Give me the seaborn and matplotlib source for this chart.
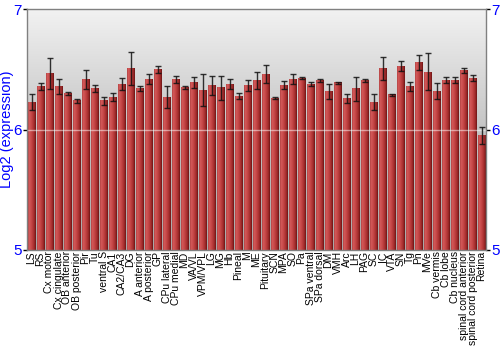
import numpy as np
import pandas as pd
import matplotlib
matplotlib.use("Agg")
import matplotlib.pyplot as plt
from matplotlib.colors import LinearSegmentedColormap
import seaborn as sns

regions = ["LS", "RS", "Cx motor", "Cx cingulate", "OB anterior", "OB posterior", "Pir", "Tu",
           "ventral S", "CA1", "CA2/CA3", "DG", "A anterior", "A posterior", "GP", "CPu lateral",
           "CPu medial", "MD", "VA/VL", "VPM/VPL", "LG", "MG", "Hb", "Pineal", "M", "ME",
           "Pituitary", "SCN", "MPA", "SO", "Pa", "SPa ventral", "SPa dorsal", "DM", "VMH", "Arc",
           "LH", "PAG", "SC", "IC", "VTA", "SN", "Tg", "Pn", "MVe", "Cb vermis", "Cb lobe",
           "Cb nucleus", "spinal cord anterior", "spinal cord posterior", "Retina"]
expression = [6.23, 6.36, 6.47, 6.36, 6.30, 6.24, 6.42, 6.34,
              6.24, 6.27, 6.38, 6.51, 6.34, 6.42, 6.50, 6.27,
              6.42, 6.35, 6.39, 6.33, 6.37, 6.35, 6.38, 6.28, 6.37, 6.41,
              6.46, 6.26, 6.37, 6.42, 6.43, 6.38, 6.41, 6.32, 6.39, 6.26,
              6.34, 6.41, 6.23, 6.51, 6.29, 6.53, 6.36, 6.56, 6.48, 6.32, 6.41,
              6.41, 6.49, 6.43, 5.95]
errors = [0.065, 0.03, 0.13, 0.065, 0.015, 0.017, 0.08, 0.03,
          0.035, 0.035, 0.05, 0.14, 0.02, 0.04, 0.03, 0.09,
          0.03, 0.015, 0.045, 0.13, 0.08, 0.10, 0.04, 0.025, 0.045, 0.07,
          0.075, 0.008, 0.035, 0.04, 0.012, 0.015, 0.01, 0.063, 0.01, 0.036,
          0.10, 0.014, 0.067, 0.094, 0.008, 0.044, 0.035, 0.062, 0.154, 0.065, 0.024,
          0.024, 0.022, 0.025, 0.07]
y_ticks = [5, 6, 7]

df = pd.DataFrame({"region": regions, "expression": expression, "err": errors})

sns.set_theme(style="white")
plt.rcParams["font.family"] = ["Liberation Sans", "DejaVu Sans"]

fig = plt.figure(figsize=(5, 3.5), dpi=100)
ax = fig.add_axes([0.054, 0.286, 0.918, 0.687])

# background gradient
bg = LinearSegmentedColormap.from_list("bg", ["#a8a8a8", "#c4c4c4", "#f2f2f2"])
grad = np.linspace(0, 1, 256).reshape(-1, 1)
ax.imshow(grad, cmap=bg, aspect="auto", extent=[0, 1, 0, 1], transform=ax.transAxes,
          origin="lower", zorder=0)

sns.barplot(data=df, x="region", y="expression", color="#c04040", width=0.86,
            errorbar=None, ax=ax, zorder=2, linewidth=0)

ax.set_xlim(-0.5, len(regions) - 0.5)
ax.set_ylim(y_ticks[0], y_ticks[-1])
ybot = ax.get_ylim()[0]

bar_cmap = LinearSegmentedColormap.from_list(
    "bar", [(0, "#b04040"), (0.15, "#d45a5a"), (0.45, "#c44646"), (0.8, "#a02a2a"), (1, "#6a1414")])
hgrad = np.linspace(0, 1, 64).reshape(1, -1)
centers = []
for p in ax.patches:
    x0, w = p.get_x(), p.get_width()
    h = p.get_height()
    centers.append(x0 + w / 2)
    ax.imshow(hgrad, cmap=bar_cmap, aspect="auto", extent=[x0, x0 + w, ybot, h],
              zorder=3)

ax.errorbar(centers, df["expression"], yerr=df["err"], fmt="none", ecolor="#111111",
            elinewidth=1, capsize=2, capthick=1, zorder=5, alpha=0.85)

ax.axhline(6, color="white", lw=1, alpha=0.5, zorder=4)

ax.set_xlim(-0.5, len(regions) - 0.5)
ax.set_ylim(y_ticks[0], y_ticks[-1])
ax.set_yticks(y_ticks)
ax.set_yticklabels([str(t) for t in y_ticks])
ax.tick_params(axis="y", which="both", left=True, right=True, labelleft=True, labelright=True,
               length=3, width=1, color="black", labelcolor="blue", labelsize=11, pad=1)
ax.tick_params(axis="x", length=0, labelsize=7.5, pad=1, labelrotation=90, labelcolor="black")
ax.set_xlabel("")
ax.set_ylabel("Log2 (expression)", color="blue", fontsize=10.5)
ax.yaxis.set_label_coords(-0.028, 0.5)

for s in ["top", "left", "right", "bottom"]:
    ax.spines[s].set_color("#808080")
    ax.spines[s].set_linewidth(1)
    ax.spines[s].set_zorder(6)

fig.savefig("out.png", dpi=100)
